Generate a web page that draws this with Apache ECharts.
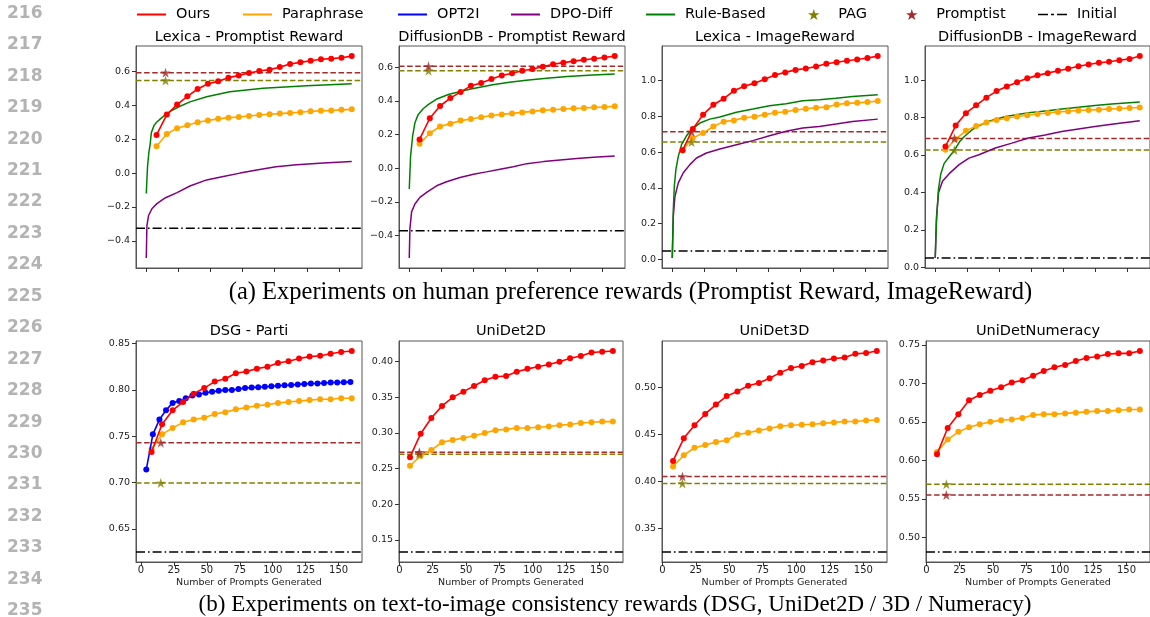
<!DOCTYPE html>
<html>
<head>
<meta charset="utf-8">
<script src="https://cdn.jsdelivr.net/npm/echarts@6/dist/echarts.min.js"></script>
<style>html,body{margin:0;padding:0;background:#fff}#c{width:1150px;height:617px}</style>
</head>
<body>
<div id="c"></div>
<script>
// ---------------- DATA ----------------
const panelTitles = ['Lexica - Promptist Reward','DiffusionDB - Promptist Reward','Lexica - ImageReward','DiffusionDB - ImageReward',
                     'DSG - Parti','UniDet2D','UniDet3D','UniDetNumeracy'];
const legendNames = ['Ours','Paraphrase','OPT2I','DPO-Diff','Rule-Based','PAG','Promptist','Initial'];
const xAxisName = 'Number of Prompts Generated';
const captionA = '(a) Experiments on human preference rewards (Promptist Reward, ImageReward)';
const captionB = '(b) Experiments on text-to-image consistency rewards (DSG, UniDet2D / 3D / Numeracy)';
const lineNumbers = [216,217,218,219,220,221,222,223,224,225,226,227,228,229,230,231,232,233,234,235];

const xTicks = [0,25,50,75,100,125,150];
const yTicksPR = [-0.4,-0.2,0.0,0.2,0.4,0.6];
const yTicksIR = [0.0,0.2,0.4,0.6,0.8,1.0];
const yTicksDSG = [0.65,0.70,0.75,0.80,0.85];
const yTicks2D = [0.15,0.20,0.25,0.30,0.35,0.40];
const yTicks3D = [0.35,0.40,0.45,0.50];
const yTicksNum = [0.50,0.55,0.60,0.65,0.70,0.75];

const xOurs = [8,16,24,32,40,48,56,64,72,80,88,96,104,112,120,128,136,144,152,160];
const xOPT2I = [4,9,14,19,24,29,34,39,44,49,54,59,64,69,74,79,84,89,94,99,104,109,114,119,124,129,134,139,144,149,154,159];
const starX = 15;

const oursLexicaPR = [0.225,0.345,0.404,0.453,0.496,0.527,0.541,0.563,0.576,0.590,0.602,0.610,0.625,0.643,0.653,0.663,0.671,0.675,0.680,0.690];
const paraLexicaPR = [0.159,0.231,0.265,0.282,0.300,0.310,0.320,0.327,0.331,0.337,0.343,0.347,0.351,0.355,0.359,0.365,0.367,0.369,0.373,0.376];
const ruleLexicaPR = [[0,-0.12],[1,0.04],[2,0.12],[3,0.17],[4,0.24],[6,0.28],[8,0.30],[11,0.32],[15,0.345],[19,0.365],[25,0.39],[34,0.42],[47,0.45],[65,0.48],[91,0.50],[125,0.515],[160,0.527]];
const dpoLexicaPR = [[0,-0.50],[0.5,-0.31],[1.8,-0.25],[4.4,-0.21],[8.3,-0.18],[15,-0.145],[24,-0.115],[34,-0.076],[47,-0.04],[60,-0.02],[73,0.0],[86,0.018],[101,0.037],[117,0.05],[138,0.06],[160,0.068]];

const oursDiffDBPR = [0.171,0.297,0.370,0.417,0.454,0.490,0.507,0.531,0.551,0.565,0.580,0.590,0.604,0.618,0.628,0.637,0.645,0.651,0.659,0.667];
const paraDiffDBPR = [0.145,0.208,0.248,0.265,0.283,0.293,0.303,0.313,0.320,0.326,0.332,0.338,0.344,0.348,0.352,0.356,0.358,0.362,0.364,0.368];
const ruleDiffDBPR = [[0,-0.124],[1,0.07],[2.6,0.19],[4.4,0.27],[7,0.32],[11,0.355],[15,0.38],[21,0.41],[31,0.44],[39,0.455],[47,0.47],[55,0.482],[65,0.496],[78,0.511],[91,0.523],[107,0.535],[123,0.545],[143,0.555],[160,0.561]];
const dpoDiffDBPR = [[0,-0.534],[0.5,-0.36],[1.8,-0.26],[4.4,-0.213],[8.3,-0.174],[13.5,-0.144],[21.3,-0.105],[29,-0.081],[39.5,-0.056],[50,-0.036],[60,-0.022],[70.7,-0.006],[81,0.009],[91.5,0.027],[104.5,0.039],[117.5,0.049],[130.5,0.057],[143.5,0.065],[160,0.072]];

const oursLexicaIR = [0.610,0.729,0.809,0.864,0.898,0.942,0.967,0.985,1.007,1.030,1.045,1.059,1.067,1.078,1.093,1.102,1.110,1.117,1.125,1.136];
const paraLexicaIR = [0.610,0.678,0.706,0.743,0.770,0.777,0.792,0.797,0.809,0.820,0.825,0.835,0.842,0.848,0.851,0.866,0.872,0.875,0.879,0.885];
const ruleLexicaIR = [[0,0.009],[0.8,0.279],[1.6,0.409],[2.8,0.502],[4.7,0.576],[7.2,0.641],[11.1,0.691],[15,0.725],[21.5,0.762],[29.2,0.784],[37,0.796],[50,0.822],[62.8,0.840],[75.7,0.859],[88.7,0.870],[101.6,0.887],[114.5,0.892],[127.5,0.901],[140.4,0.911],[160,0.920]];
const dpoLexicaIR = [[0,0.009],[0.8,0.242],[2.1,0.353],[4.7,0.428],[8.5,0.483],[13.7,0.530],[18.9,0.567],[26.6,0.595],[37,0.617],[50,0.641],[62.8,0.664],[75.7,0.691],[88.7,0.716],[101.6,0.734],[114.5,0.743],[127.5,0.757],[140.4,0.771],[160,0.784]];

const oursDiffDBIR = [0.645,0.757,0.823,0.865,0.906,0.941,0.965,0.988,1.009,1.025,1.037,1.050,1.060,1.074,1.083,1.092,1.098,1.106,1.113,1.128];
const paraDiffDBIR = [0.628,0.684,0.729,0.754,0.773,0.787,0.796,0.805,0.812,0.819,0.824,0.830,0.833,0.837,0.840,0.842,0.846,0.848,0.851,0.853];
const ruleDiffDBIR = [[0,0.05],[1,0.25],[2.6,0.42],[4.4,0.50],[7,0.555],[11,0.59],[15,0.625],[19,0.67],[23,0.70],[29,0.735],[34,0.755],[42,0.78],[55,0.805],[73,0.825],[86,0.835],[99,0.845],[112,0.855],[125,0.864],[138,0.872],[160,0.883]];
const dpoDiffDBIR = [[0,0.05],[1,0.27],[2.6,0.40],[5.7,0.46],[10.9,0.50],[18.7,0.548],[26.4,0.583],[34.2,0.601],[47,0.637],[60,0.663],[73,0.69],[86,0.707],[99,0.725],[112,0.739],[125,0.752],[138,0.764],[160,0.782]];

const oursDSG = [0.733,0.763,0.778,0.787,0.796,0.802,0.809,0.812,0.818,0.820,0.823,0.825,0.829,0.831,0.834,0.836,0.837,0.839,0.841,0.842];
const paraDSG = [0.736,0.752,0.759,0.765,0.768,0.770,0.774,0.776,0.779,0.781,0.783,0.784,0.786,0.787,0.788,0.789,0.790,0.790,0.791,0.791];
const opt2iDSG = [0.714,0.752,0.768,0.778,0.786,0.788,0.791,0.794,0.795,0.797,0.798,0.799,0.800,0.800,0.801,0.802,0.8025,0.803,0.8035,0.804,0.8045,0.805,0.8053,0.806,0.8065,0.807,0.807,0.8075,0.808,0.808,0.8082,0.8085];

const oursUniDet2D = [0.266,0.299,0.321,0.338,0.350,0.358,0.366,0.374,0.379,0.380,0.386,0.390,0.393,0.396,0.400,0.405,0.408,0.413,0.414,0.415];
const paraUniDet2D = [0.254,0.268,0.276,0.287,0.290,0.293,0.296,0.300,0.304,0.305,0.307,0.307,0.308,0.309,0.311,0.312,0.314,0.315,0.316,0.316];

const oursUniDet3D = [0.422,0.446,0.460,0.472,0.482,0.491,0.496,0.502,0.505,0.510,0.516,0.521,0.523,0.527,0.529,0.531,0.532,0.536,0.537,0.539];
const paraUniDet3D = [0.416,0.428,0.436,0.439,0.442,0.444,0.450,0.452,0.4545,0.4565,0.459,0.460,0.4605,0.461,0.462,0.463,0.464,0.464,0.465,0.4655];

const oursUniDetNum = [0.608,0.642,0.660,0.678,0.685,0.6905,0.695,0.701,0.704,0.710,0.716,0.721,0.724,0.729,0.733,0.735,0.738,0.739,0.739,0.742];
const paraUniDetNum = [0.611,0.627,0.637,0.643,0.647,0.650,0.652,0.653,0.655,0.659,0.660,0.660,0.661,0.662,0.663,0.664,0.664,0.665,0.666,0.666];

const promptistVals = [0.592,0.606,0.714,0.688,0.743,0.273,0.4055,0.555];
const pagVals       = [0.546,0.580,0.656,0.626,0.6996,0.270,0.398,0.569];
const initialVals   = [-0.325,-0.372,0.048,0.050,0.625,0.133,0.325,0.481];

// ---------------- BUILD ----------------
const panels = [
  {ours: oursLexicaPR, para: paraLexicaPR, rule: ruleLexicaPR, dpo: dpoLexicaPR, yTicks: yTicksPR, dec: 1},
  {ours: oursDiffDBPR, para: paraDiffDBPR, rule: ruleDiffDBPR, dpo: dpoDiffDBPR, yTicks: yTicksPR, dec: 1},
  {ours: oursLexicaIR, para: paraLexicaIR, rule: ruleLexicaIR, dpo: dpoLexicaIR, yTicks: yTicksIR, dec: 1},
  {ours: oursDiffDBIR, para: paraDiffDBIR, rule: ruleDiffDBIR, dpo: dpoDiffDBIR, yTicks: yTicksIR, dec: 1},
  {ours: oursDSG, para: paraDSG, opt2i: opt2iDSG, yTicks: yTicksDSG, dec: 2},
  {ours: oursUniDet2D, para: paraUniDet2D, yTicks: yTicks2D, dec: 2},
  {ours: oursUniDet3D, para: paraUniDet3D, yTicks: yTicks3D, dec: 2},
  {ours: oursUniDetNum, para: paraUniDetNum, yTicks: yTicksNum, dec: 2}
];
const gridBoxes = [
  [136,46,226,222],[399,46,226,222],[662,46,226,222],[925,46,225,222],
  [136,341,226,221],[399,341,224,221],[662,341,225,221],[926,341,224,221]
];
const FONT = 'DejaVu Sans';
const AX = '#333';
const COL = {ours:'#ff0000', para:'#ffa500', opt2i:'#0000ff', dpo:'#800080', rule:'#008000', pag:'#808000', promptist:'#a52a2a', initial:'#000000'};
const STAR = 'path://M50,0L61.2,34.5L97.6,34.5L68.2,55.9L79.4,90.5L50,69.1L20.6,90.5L31.8,55.9L2.4,34.5L38.8,34.5Z';

function fmt(v, dec){ const s = Math.abs(v).toFixed(dec); return (v < -1e-9 ? '\u2212' : '') + s; }
function pad(lo, hi){ const m = (hi - lo) * 0.05; return [lo - m, hi + m]; }

const grids = [], xAxes = [], yAxes = [], series = [], graphics = [];

panels.forEach((p, i) => {
  const bottomRow = i >= 4;
  const b = gridBoxes[i];
  grids.push({left: b[0], top: b[1], width: b[2], height: b[3], show: true, borderColor: '#555', borderWidth: 1,
              backgroundColor: 'transparent', containLabel: false, outerBoundsMode: 'none'});
  let xs = xOurs.slice(), ys = p.ours.concat(p.para, [promptistVals[i], pagVals[i], initialVals[i]]);
  if (p.opt2i) { xs = xs.concat(xOPT2I); ys = ys.concat(p.opt2i); }
  if (p.rule) { p.rule.forEach(d => { xs.push(d[0]); ys.push(d[1]); }); p.dpo.forEach(d => { xs.push(d[0]); ys.push(d[1]); }); }
  const xr = pad(Math.min(...xs), Math.max(...xs));
  if (xr[0] > 0) xr[0] = -0.25;   // the reference's x axis starts just left of 0
  const yr = pad(Math.min(...ys), Math.max(...ys));

  xAxes.push({
    type: 'value', gridIndex: i, min: xr[0], max: xr[1],
    axisLine: {show: true, onZero: false, lineStyle: {color: '#555', width: 1}},
    axisTick: {show: true, length: 4, customValues: xTicks, lineStyle: {color: AX, width: 1}},
    axisLabel: {show: bottomRow, customValues: xTicks, fontFamily: FONT, fontSize: 10, color: '#222', margin: 3},
    splitLine: {show: false},
    name: bottomRow ? xAxisName : '', nameLocation: 'middle', nameGap: 16,
    nameTextStyle: {fontFamily: FONT, fontSize: 9.5, color: '#222'}
  });
  yAxes.push({
    type: 'value', gridIndex: i, min: yr[0], max: yr[1],
    axisLine: {show: true, onZero: false, lineStyle: {color: '#555', width: 1}},
    axisTick: {show: true, length: 4, customValues: p.yTicks, lineStyle: {color: AX, width: 1}},
    axisLabel: {show: true, customValues: p.yTicks, fontFamily: FONT, fontSize: 9.5, color: '#222', margin: 6,
                formatter: (v) => fmt(v, p.dec)},
    splitLine: {show: false}
  });

  const common = {xAxisIndex: i, yAxisIndex: i, animation: false, emphasis: {disabled: true}, silent: true};
  const hline = (name, v, color, type, z) => Object.assign({}, common, {
    type: 'line', name, data: [[xr[0], v], [xr[1], v]], symbol: 'none',
    lineStyle: {color, width: 1.5, type}, itemStyle: {color}, z
  });
  series.push(hline('Initial', initialVals[i], COL.initial, [9, 3, 1.6, 3], 1));
  series.push(hline('Promptist', promptistVals[i], COL.promptist, [5.5, 2.6], 1));
  series.push(hline('PAG', pagVals[i], COL.pag, [5.5, 2.6], 1));
  if (p.rule) {
    series.push(Object.assign({}, common, {type: 'line', name: 'DPO-Diff', data: p.dpo, symbol: 'none',
      lineStyle: {color: COL.dpo, width: 1.5}, itemStyle: {color: COL.dpo}, z: 2}));
    series.push(Object.assign({}, common, {type: 'line', name: 'Rule-Based', data: p.rule, symbol: 'none',
      lineStyle: {color: COL.rule, width: 1.5}, itemStyle: {color: COL.rule}, z: 2}));
  }
  const marked = (name, xv, yv, color, z) => Object.assign({}, common, {
    type: 'line', name, data: xv.map((x, k) => [x, yv[k]]), symbol: 'circle', symbolSize: 6, showAllSymbol: true,
    lineStyle: {color, width: 1.6}, itemStyle: {color, borderWidth: 0}, z
  });
  series.push(marked('Paraphrase', xOurs, p.para, COL.para, 3));
  series.push(Object.assign({}, common, {type: 'scatter', name: 'PAG', data: [[starX, pagVals[i]]], symbol: STAR, symbolSize: 10,
    itemStyle: {color: COL.pag}, z: 4}));
  series.push(Object.assign({}, common, {type: 'scatter', name: 'Promptist', data: [[starX, promptistVals[i]]], symbol: STAR, symbolSize: 10,
    itemStyle: {color: COL.promptist}, z: 4}));
  if (p.opt2i) series.push(marked('OPT2I', xOPT2I, p.opt2i, COL.opt2i, 5));
  series.push(marked('Ours', xOurs, p.ours, COL.ours, 6));

  graphics.push({type: 'text', x: b[0] + b[2] / 2, y: bottomRow ? 331 : 37,
    style: {text: panelTitles[i], fontFamily: FONT, fontSize: 14.5, fill: '#000', align: 'center', verticalAlign: 'middle',
            textAlign: 'center', textVerticalAlign: 'middle'}});
});

graphics.push({type: 'text', x: 630.5, y: 293, style: {text: captionA, fontFamily: 'Liberation Serif', fontSize: 24.5, fill: '#000',
  align: 'center', verticalAlign: 'middle', textAlign: 'center', textVerticalAlign: 'middle'}});
graphics.push({type: 'text', x: 615, y: 605, style: {text: captionB, fontFamily: 'Liberation Serif', fontSize: 23, fill: '#000',
  align: 'center', verticalAlign: 'middle', textAlign: 'center', textVerticalAlign: 'middle'}});
lineNumbers.forEach((n, k) => {
  graphics.push({type: 'text', x: 7, y: 13.3 + 31.45 * k, style: {text: String(n), fontFamily: 'DejaVu Sans', fontWeight: 'bold',
    fontSize: 17, fill: '#b3b3b3', align: 'left', verticalAlign: 'middle', textAlign: 'left', textVerticalAlign: 'middle'}});
});

const legendTextLeft = [176, 282, 437, 550, 685, 838, 936, 1077];
const LINE_ICON = 'rect';
const DASHDOT_ICON = 'path://M0,0h10v1.6h-10z M13,0h3v1.6h-3z M19,0h10v1.6h-10z';
const legends = legendNames.map((name, k) => {
  const isStar = (name === 'PAG' || name === 'Promptist');
  const icon = isStar ? STAR : (name === 'Initial' ? DASHDOT_ICON : LINE_ICON);
  return {
    data: [{name, icon}], left: legendTextLeft[k] - 39 + (isStar ? 9 : 0), top: 7, padding: 0,
    itemWidth: 29, itemHeight: isStar ? 11 : 2, symbolKeepAspect: true, selectedMode: false,
    textStyle: {fontFamily: FONT, fontSize: 14.5, color: '#000', padding: [0, 0, 0, 5]}
  };
});

const chart = echarts.init(document.getElementById('c'), null, {renderer: 'canvas'});
chart.setOption({
  animation: false,
  backgroundColor: '#fff',
  grid: grids, xAxis: xAxes, yAxis: yAxes, series, legend: legends,
  graphic: {elements: graphics}
});
</script>
</body>
</html>
